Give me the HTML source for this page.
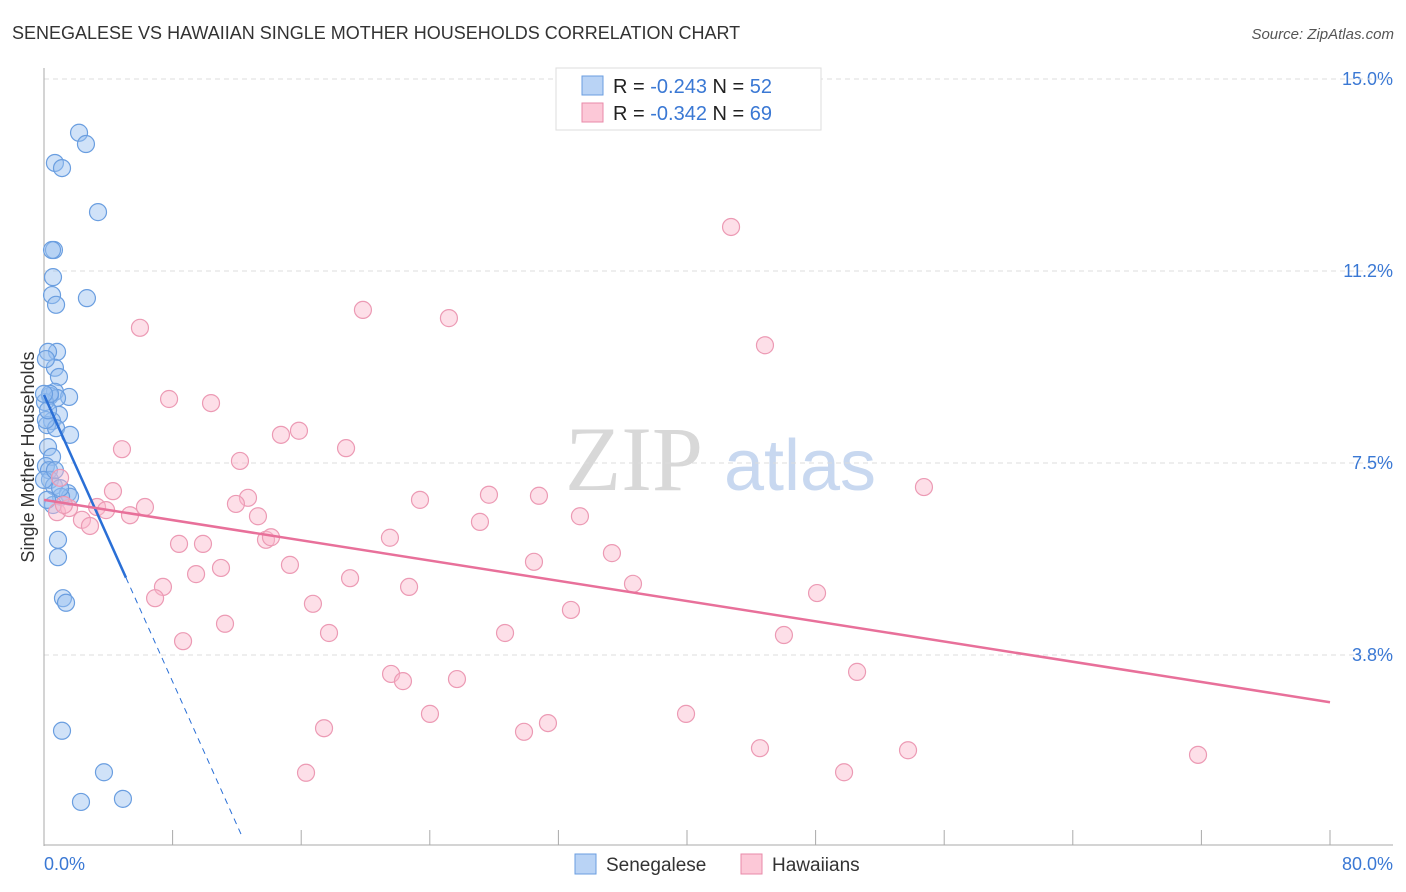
<!DOCTYPE html>
<html><head><meta charset="utf-8"><style>
body{margin:0;background:#fff;font-family:"Liberation Sans",sans-serif;}
svg{display:block}
</style></head><body>
<svg id="chart" width="1406" height="892" xmlns="http://www.w3.org/2000/svg">
<text x="12" y="39" font-size="18" fill="#333">SENEGALESE VS HAWAIIAN SINGLE MOTHER HOUSEHOLDS CORRELATION CHART</text>
<text x="1394" y="39" font-size="15" fill="#555" font-style="italic" text-anchor="end">Source: ZipAtlas.com</text>
<text x="634" y="490" font-size="92" fill="#d8d8d8" font-family="Liberation Serif" text-anchor="middle">ZIP</text>
<text x="800" y="490" font-size="72" fill="#c8d8f0" text-anchor="middle">atlas</text>
<text transform="translate(34,457) rotate(-90)" font-size="18" fill="#333" text-anchor="middle">Single Mother Households</text>
<g id="grid"></g>
<g id="axes"></g>
<g id="pts"></g>
<g id="trend"></g>
<g>
<rect x="556" y="68" width="265" height="62" fill="#fff" stroke="#ddd"/>
<rect x="582" y="76" width="21" height="19" fill="#b9d3f5" stroke="#6a9ee0"/>
<rect x="582" y="103" width="21" height="19" fill="#fcc8d7" stroke="#e88aa8"/>
<text x="613" y="93" font-size="20" fill="#222">R = <tspan fill="#3a78d4">-0.243</tspan>   N = <tspan fill="#3a78d4">52</tspan></text>
<text x="613" y="120" font-size="20" fill="#222">R = <tspan fill="#3a78d4">-0.342</tspan>   N = <tspan fill="#3a78d4">69</tspan></text>
</g>
<g>
<rect x="575" y="854" width="21" height="20" fill="#b9d3f5" stroke="#6a9ee0"/>
<text x="606" y="871" font-size="19" fill="#333">Senegalese</text>
<rect x="741" y="854" width="21" height="20" fill="#fcc8d7" stroke="#e88aa8"/>
<text x="772" y="871" font-size="19" fill="#333">Hawaiians</text>
</g>
</svg>
<script>
const yTicks=[3.75,7.5,11.25,15];
const yTickLabels=["3.8%","7.5%","11.2%","15.0%"];
const xTickValues=[0,8,16,24,32,40,48,56,64,72,80];
const blueX=[2.18,2.61,0.68,1.12,3.36,0.62,0.50,0.56,0.50,0.75,2.67,0.81,0.25,0.68,0.93,0.68,0.37,1.56,0.81,0.06,0.93,0.50,0.19,0.75,1.62,0.25,0.50,0.12,0.31,0.37,0.62,1.49,1.62,1.06,0.56,0.19,0.87,0.87,1.18,1.37,1.12,3.73,2.30,4.91,0.12,0.25,0.0,1.0,0.68,0.37,0.0,0.12];
const blueY=[13.95,13.73,13.36,13.26,12.40,11.66,11.66,11.13,10.78,10.59,10.72,9.67,9.67,9.36,9.18,8.89,8.81,8.79,8.77,8.69,8.44,8.32,8.24,8.18,8.05,7.81,7.62,7.44,7.36,7.17,7.05,6.91,6.84,6.84,6.68,6.78,6.00,5.66,4.86,4.77,2.27,1.46,0.88,0.94,8.34,8.53,7.17,7.01,7.36,8.85,8.85,9.53];
const pinkX=[42.74,19.84,25.19,5.97,44.85,7.78,10.39,14.74,15.86,18.79,4.85,12.19,54.74,4.29,12.69,23.39,27.68,30.79,1.00,11.94,6.28,3.30,3.86,5.35,13.31,33.34,27.12,0.81,1.56,2.36,2.86,13.81,21.52,14.12,8.40,9.89,35.33,30.48,15.30,11.01,9.46,19.04,7.40,22.71,36.64,6.91,48.09,16.73,32.78,11.26,17.73,28.68,46.03,8.65,21.59,22.33,25.69,50.58,24.01,39.94,31.35,17.42,29.86,44.54,53.75,16.30,49.77,71.79,1.24];
const pinkY=[12.11,10.49,10.33,10.14,9.80,8.75,8.67,8.05,8.13,7.79,7.77,7.54,7.03,6.95,6.82,6.78,6.88,6.86,7.21,6.70,6.64,6.64,6.58,6.48,6.46,6.46,6.35,6.54,6.62,6.39,6.27,6.00,6.04,6.05,5.92,5.92,5.74,5.57,5.51,5.45,5.33,5.25,5.08,5.08,5.14,4.86,4.96,4.75,4.63,4.36,4.18,4.18,4.14,4.02,3.38,3.24,3.28,3.42,2.60,2.60,2.42,2.32,2.25,1.93,1.89,1.45,1.46,1.80,6.68];
const blueTrend=[8.83,-0.70];   // intercept, slope
const pinkTrend=[6.78,-0.0494];
const blueSolidEnd=5.1, blueDashEnd=12.3;

const NS="http://www.w3.org/2000/svg";
const X=v=>44+v*(1286/80);
const Y=v=>847-v*51.2;
function mk(tag,attrs,parent){const e=document.createElementNS(NS,tag);for(const k in attrs)e.setAttribute(k,attrs[k]);document.getElementById(parent).appendChild(e);return e;}

yTicks.forEach((t,i)=>{
  const l=mk('line',{x1:44,x2:1393,y1:Y(t),y2:Y(t),stroke:'#ddd','stroke-dasharray':'5,4'},'grid');
  
  
  const tx=mk('text',{x:1393,y:Y(t)+6,'font-size':18,fill:'#3a78d4','text-anchor':'end'},'grid');
  tx.textContent=yTickLabels[i];
  
  
});
const topGrid=mk('line',{x1:44,x2:1393,y1:Y(15),y2:Y(15),stroke:'#ddd','stroke-dasharray':'5,4'},'grid');


const ya=mk('line',{x1:44,x2:44,y1:68,y2:846,stroke:'#aaa'},'axes');


const xa=mk('line',{x1:44,x2:1393,y1:845,y2:845,stroke:'#aaa'},'axes');


xTickValues.forEach(t=>{
  const l=mk('line',{x1:X(t),x2:X(t),y1:830,y2:845,stroke:'#aaa'},'axes');
  
  
});
const xl0=mk('text',{x:44,y:870,'font-size':18,fill:'#3a78d4'},'axes');xl0.textContent='0.0%';


const xl1=mk('text',{x:1393,y:870,'font-size':18,fill:'#3a78d4','text-anchor':'end'},'axes');xl1.textContent='80.0%';



blueX.forEach((v,i)=>{
  const c=mk('circle',{cx:X(v),cy:Y(blueY[i]),r:8.5,fill:'rgba(150,190,240,0.45)',stroke:'#6a9ee0','stroke-width':1.2},'pts');
  
  
});
pinkX.forEach((v,i)=>{
  const c=mk('circle',{cx:X(v),cy:Y(pinkY[i]),r:8.5,fill:'rgba(250,185,205,0.45)',stroke:'#ec9ab4','stroke-width':1.2},'pts');
  
  
});
const bt=v=>blueTrend[0]+blueTrend[1]*v, pt=v=>pinkTrend[0]+pinkTrend[1]*v;
const b1=mk('line',{x1:X(0),y1:Y(bt(0)),x2:X(blueSolidEnd),y2:Y(bt(blueSolidEnd)),stroke:'#2a6fd6','stroke-width':2.5},'trend');


const b2=mk('line',{x1:X(blueSolidEnd),y1:Y(bt(blueSolidEnd)),x2:X(blueDashEnd),y2:Y(bt(blueDashEnd)),stroke:'#2a6fd6','stroke-width':1,'stroke-dasharray':'6,5'},'trend');


const p1=mk('line',{x1:X(0),y1:Y(pt(0)),x2:X(80),y2:Y(pt(80)),stroke:'#e8709a','stroke-width':2.5},'trend');


</script>
</body></html>
